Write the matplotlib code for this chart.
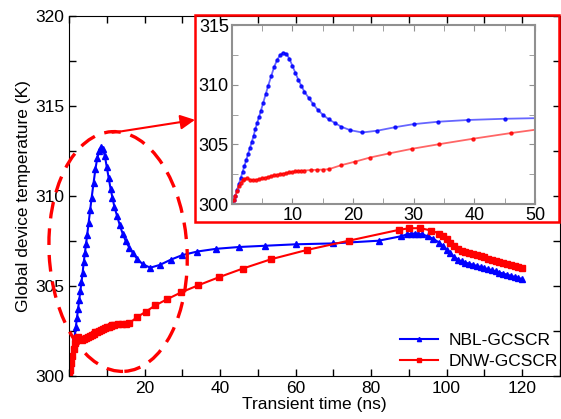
import matplotlib
matplotlib.use("Agg")
import matplotlib.pyplot as plt
from matplotlib.patches import Ellipse, Rectangle
from matplotlib.transforms import IdentityTransform
from matplotlib.ticker import MultipleLocator

plt.rcParams['font.family'] = ['Liberation Sans', 'DejaVu Sans']

# NBL-GCSCR (blue)
nbl_t = [0, 0.3, 0.6, 0.9, 1.2, 1.5, 1.8, 2.1, 2.4, 2.7, 3.0, 3.3, 3.6, 3.9, 4.2,
         4.5, 4.8, 5.2, 5.6, 6.0, 6.5, 7.0, 7.5, 8.0, 8.5, 9.0, 9.5, 10.0, 10.5,
         11.0, 11.5, 12.0, 12.7, 13.4, 14.2, 15.0, 16.0, 17.0, 18.0, 19.5, 21.5,
         24.0, 27.0, 30.0, 34.0, 39.0, 45.0, 52.0, 60.0, 70.0, 82.0, 88.0, 89.5,
         90.5, 91.5, 92.5, 93.5, 95.0, 96.5, 98.0, 99.0, 100, 101, 102, 103, 104,
         105, 106, 107, 108, 109, 110, 111, 112, 113, 114, 115, 116, 117, 118,
         119, 120]
nbl_T = [300.0, 300.3, 300.7, 301.2, 301.7, 302.2, 302.7, 303.2, 303.7, 304.2,
         304.7, 305.2, 305.7, 306.3, 306.8, 307.3, 307.8, 308.5, 309.2, 309.9,
         310.7, 311.5, 312.1, 312.5, 312.7, 312.6, 312.2, 311.6, 311.0, 310.4,
         309.9, 309.4, 308.9, 308.4, 307.9, 307.5, 307.1, 306.8, 306.5, 306.2,
         306.0, 306.15, 306.45, 306.7, 306.9, 307.05, 307.15, 307.22, 307.3,
         307.35, 307.5, 307.75, 307.85, 307.88, 307.9, 307.88, 307.85, 307.75,
         307.6, 307.4, 307.2, 307.0, 306.8, 306.6, 306.45, 306.35, 306.28,
         306.22, 306.16, 306.10, 306.04, 305.98, 305.92, 305.86, 305.80, 305.73,
         305.67, 305.61, 305.55, 305.49, 305.43, 305.37]

# DNW-GCSCR (red)
dnw_t = [0, 0.3, 0.6, 0.9, 1.2, 1.5, 1.8, 2.1, 2.5, 3.0, 3.5, 4.0, 4.5, 5.0, 5.5,
         6.0, 6.5, 7.0, 7.5, 8.0, 8.5, 9.0, 9.5, 10.0, 10.5, 11.0, 11.5, 12.0,
         13.0, 14.0, 15.0, 16.0, 18.0, 20.3, 22.8, 25.9, 29.7, 34.2, 39.7, 46.0,
         53.5, 62.9, 74.1, 87.3, 90.0, 93.0, 96.0, 98.0, 99, 100, 101, 102, 103,
         104, 105, 106, 107, 108, 109, 110, 111, 112, 113, 114, 115, 116, 117,
         118, 119, 120]
dnw_T = [300.0, 300.3, 300.7, 301.1, 301.5, 301.8, 302.0, 302.12, 302.15, 302.05,
         302.0, 302.02, 302.08, 302.15, 302.2, 302.27, 302.33, 302.4, 302.45,
         302.5, 302.55, 302.6, 302.65, 302.7, 302.73, 302.76, 302.79, 302.81,
         302.85, 302.87, 302.89, 302.92, 303.25, 303.55, 303.9, 304.24, 304.63,
         305.02, 305.47, 305.95, 306.47, 306.98, 307.5, 308.1, 308.19, 308.2,
         308.06, 307.9, 307.75, 307.58, 307.4, 307.2, 307.05, 306.95, 306.88,
         306.82, 306.76, 306.70, 306.64, 306.57, 306.51, 306.45, 306.39, 306.33,
         306.27, 306.21, 306.14, 306.08, 306.02, 305.96]

fig = plt.figure(figsize=(5.61, 4.19), dpi=100)
ax = fig.add_axes([0.123, 0.1034, 0.875, 0.859])

ax.plot(nbl_t, nbl_T, color='#0000ff', lw=1.5, marker='^', ms=5,
        label='NBL-GCSCR')
ax.plot(dnw_t, dnw_T, color='#ff0000', lw=1.5, marker='s', ms=3.8,
        label='DNW-GCSCR')

ax.set_xlim(0, 130)
ax.set_ylim(300, 320)
ax.set_xticks([20, 40, 60, 80, 100, 120])
ax.xaxis.set_minor_locator(MultipleLocator(10))
ax.set_yticks([300, 305, 310, 315, 320])
ax.yaxis.set_minor_locator(MultipleLocator(2.5))
ax.tick_params(which='both', direction='in', top=True, right=True,
               labelsize=12.5, width=1, length=5)
ax.set_xlabel('Transient time (ns)', fontsize=12.5, labelpad=1)
ax.set_ylabel('Global device temperature (K)', fontsize=12.5, labelpad=3)

ax.legend(loc='lower right', frameon=False, fontsize=12.5, handlelength=2.2,
          handletextpad=0.6, borderaxespad=0.3, labelspacing=0.35,
          markerscale=0.6, bbox_to_anchor=(1.02, -0.015))

# inset
ins = fig.add_axes([0.413, 0.513, 0.5407, 0.427])
ins.plot(nbl_t, nbl_T, color='#4040ff', lw=1.3, alpha=0.8, marker='o', ms=2.2,
         mfc='#0000ff', mec='#0000ff')
ins.plot(dnw_t, dnw_T, color='#ff4040', lw=1.3, alpha=0.8, marker='o', ms=2.2,
         mfc='#ff0000', mec='#ff0000')
ins.set_xlim(0, 50)
ins.set_ylim(300, 315)
ins.set_xticks([10, 20, 30, 40, 50])
ins.xaxis.set_minor_locator(MultipleLocator(5))
ins.set_yticks([300, 305, 310, 315])
ins.yaxis.set_minor_locator(MultipleLocator(2.5))
ins.tick_params(which='both', direction='in', top=True, right=True,
                labelsize=13, color='#909090', length=4, pad=2)
for s in ins.spines.values():
    s.set_color('#909090')
    s.set_linewidth(1.5)

# red frame round the inset
fig.patches.append(Rectangle((0.3476, 0.470), 0.6488, 0.494,
                             transform=fig.transFigure, fill=False,
                             ec='#ff0000', lw=1.8, zorder=5))

# dashed ellipse round the early peak
cx, cy = ax.transData.transform((13, 306.9))
ell = Ellipse((cx, cy), 138, 240, angle=3, transform=IdentityTransform(),
              fill=False, ec='#ff0000', lw=2.4, ls=(0, (5, 3)), clip_on=False,
              zorder=4)
fig.patches.append(ell)

ax.annotate('', xy=(0.3476, 0.714), xycoords='figure fraction',
            xytext=(11.5, 313.5), textcoords='data',
            arrowprops=dict(arrowstyle='-|>', color='#ff0000', lw=1.5,
                            mutation_scale=22, shrinkA=0, shrinkB=0),
            annotation_clip=False)

fig.savefig('out.png', dpi=100)
